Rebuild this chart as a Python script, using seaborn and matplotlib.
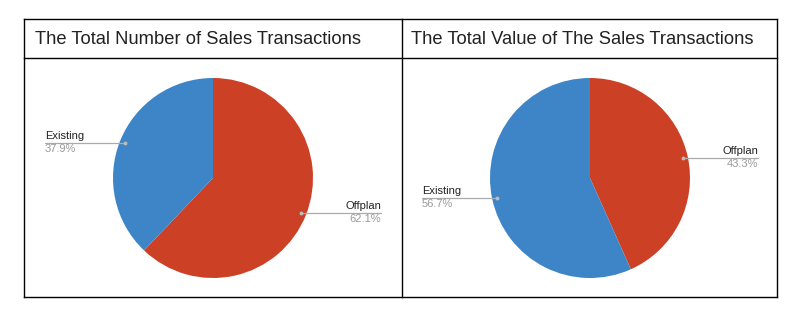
import numpy as np
import matplotlib
matplotlib.use("Agg")
import matplotlib.pyplot as plt
from matplotlib.lines import Line2D
import seaborn as sns

sns.set_theme(style="white")
plt.rcParams['font.family'] = ['Liberation Sans', 'DejaVu Sans']

# ---- data ----
categories = ["Offplan", "Existing"]
count_share = [62.1, 37.9]
value_share = [43.3, 56.7]
titles = ["The Total Number of Sales Transactions",
          "The Total Value of The Sales Transactions"]
colors = ["#cc4125", "#3d85c6"]

W, H = 793, 315
fig = plt.figure(figsize=(W / 100, H / 100), dpi=100)
fig.patch.set_facecolor("white")


def px(x, y):
    return x / W, 1 - y / H


# frame lines (table layout)
frame_lw = 1.0
for (x0, y0, x1, y1) in [(24, 19, 777, 19), (24, 58, 777, 58), (24, 297, 777, 297),
                         (24, 19, 24, 297), (402, 19, 402, 297), (777, 19, 777, 297)]:
    a, b = px(x0, y0)
    c, d = px(x1, y1)
    fig.add_artist(Line2D([a, c], [b, d], color="black", lw=frame_lw,
                          transform=fig.transFigure, solid_capstyle="projecting"))

# titles
for tx, t in zip([35, 411], titles):
    fx, fy = px(tx, 39)
    fig.text(fx, fy, t, ha="left", va="center", fontsize=13.2, color="#222222")

centers = [(213, 178), (590, 178)]
datasets = [count_share, value_share]

for (cx, cy), vals in zip(centers, datasets):
    left = (cx - 190) / W
    bottom = (H - (cy + 110)) / H
    ax = fig.add_axes([left, bottom, 380 / W, 220 / H])
    wedges, _ = ax.pie(vals, colors=colors, startangle=90, counterclock=False,
                       radius=1.0, wedgeprops=dict(linewidth=0))
    ax.set_xlim(-1.9, 1.9)
    ax.set_ylim(-1.1, 1.1)
    ax.set_aspect("equal", adjustable="box")
    ax.axis("off")
    for w, name, v in zip(wedges, categories, vals):
        mid = np.deg2rad((w.theta1 + w.theta2) / 2)
        dx, dy = 0.95 * np.cos(mid), 0.95 * np.sin(mid)
        side = 1 if dx > 0 else -1
        xend = 1.68 * side
        ax.plot([dx, xend], [dy, dy], color="#aaaaaa", lw=0.9, zorder=3)
        ax.plot([dx], [dy], marker="o", ms=1.8, color="#bbbbbb", zorder=4)
        ha = "left" if side < 0 else "right"
        ax.text(xend, dy + 0.02, name, ha=ha, va="bottom", fontsize=8,
                color="#222222")
        ax.text(xend, dy - 0.01, f"{v:.1f}%", ha=ha, va="top", fontsize=8,
                color="#9a9a9a")

fig.savefig("out.png", dpi=100, facecolor="white")
